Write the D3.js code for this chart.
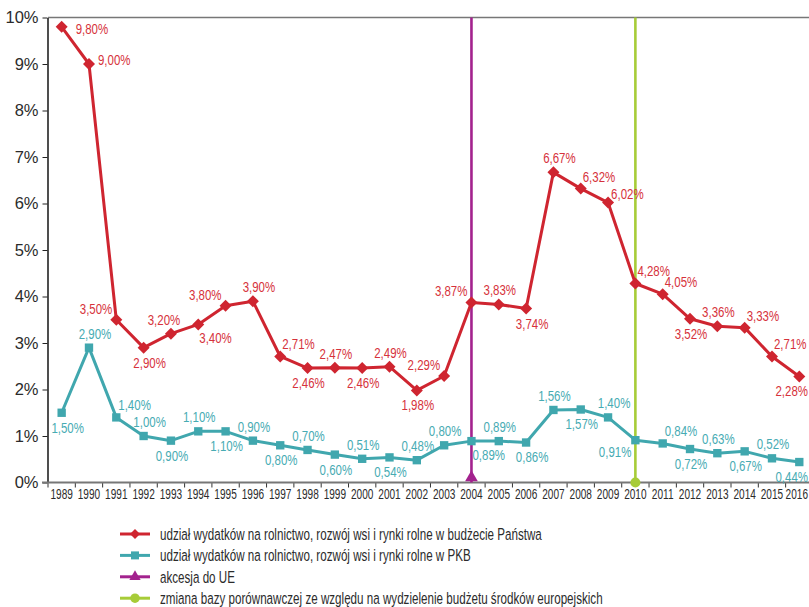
<!DOCTYPE html>
<html>
<head>
<meta charset="utf-8">
<script src="https://cdn.jsdelivr.net/npm/d3@7"></script>
<style>
  html, body { margin: 0; padding: 0; background: #fff; }
  svg { display: block; }
  text { font-family: "Liberation Sans", Arial, sans-serif; }
</style>
</head>
<body>
<svg id="chart" width="809" height="607"></svg>
<script>
// Years on the horizontal axis
const years = [1989, 1990, 1991, 1992, 1993, 1994, 1995, 1996, 1997, 1998, 1999, 2000, 2001, 2002,
               2003, 2004, 2005, 2006, 2007, 2008, 2009, 2010, 2011, 2012, 2013, 2014, 2015, 2016];

// Share of agriculture, rural development and agricultural markets spending in the state budget (%)
const budgetShare = [9.80, 9.00, 3.50, 2.90, 3.20, 3.40, 3.80, 3.90, 2.71, 2.46, 2.47, 2.46, 2.49, 1.98,
                     2.29, 3.87, 3.83, 3.74, 6.67, 6.32, 6.02, 4.28, 4.05, 3.52, 3.36, 3.33, 2.71, 2.28];

// Share of the same spending in GDP (%)
const gdpShare = [1.50, 2.90, 1.40, 1.00, 0.90, 1.10, 1.10, 0.90, 0.80, 0.70, 0.60, 0.51, 0.54, 0.48,
                  0.80, 0.89, 0.89, 0.86, 1.56, 1.57, 1.40, 0.91, 0.84, 0.72, 0.63, 0.67, 0.52, 0.44];

// Percent ticks on the vertical axis
const yTicks = [0, 1, 2, 3, 4, 5, 6, 7, 8, 9, 10];

// Marker years: EU accession, change of comparison base
const accessionYear = 2004;
const baseChangeYear = 2010;

// Legend entries
const legendLabels = [
  "udział wydatków na rolnictwo, rozwój wsi i rynki rolne w budżecie Państwa",
  "udział wydatków na rolnictwo, rozwój wsi i rynki rolne w PKB",
  "akcesja do UE",
  "zmiana bazy porównawczej ze względu na wydzielenie budżetu środków europejskich"
];

// Where each value label sits around its point
const budgetLabelPlace = ["r1", "r2", "tl", "bR", "tL", "br", "tl", "tR", "tr", "b", "t", "b", "t", "b",
                          "tl", "tl", "t", "bR", "tR", "tr", "r3", "tr", "tr", "b", "t", "tr", "tr", "b"];
const gdpLabelPlace = ["bR", "tR", "tr", "tR", "b", "t", "b", "t", "b", "t", "b", "t", "b", "t",
                       "t", "br", "t", "bR", "t", "b", "tR", "bl", "tr", "b", "t", "b", "t", "b"];

const placeOffsets = {
  t:  { anchor: "middle", dx: 1,   dy: -14 },
  tR: { anchor: "middle", dx: 6,   dy: -14 },
  tL: { anchor: "middle", dx: -7,  dy: -14 },
  b:  { anchor: "middle", dx: 1,   dy: 15 },
  bR: { anchor: "middle", dx: 6,   dy: 15 },
  tr: { anchor: "start",  dx: 2,   dy: -12 },
  tl: { anchor: "end",    dx: -4,  dy: -11 },
  br: { anchor: "start",  dx: 1,   dy: 14 },
  bl: { anchor: "end",    dx: -4,  dy: 12 },
  r1: { anchor: "start",  dx: 14,  dy: 2 },
  r2: { anchor: "start",  dx: 9,   dy: -4 },
  r3: { anchor: "start",  dx: 3,   dy: -8 }
};

const colors = {
  budget: "#cf2530",
  budgetText: "#d6323b",
  gdp: "#40a7ae",
  gdpText: "#47abb3",
  accession: "#a3228e",
  baseChange: "#a7cc38",
  axis: "#777777",
  text: "#2b2b2b"
};

// Horizontal squeeze giving a condensed face
const narrowLabel = 0.82, narrowYear = 0.72, narrowLegend = 0.705;

const svg = d3.select("#chart");
const W = 809;

const plotLeft = 48, plotTop = 17.5, plotBottom = 482.5, band = 27.32;

const x = d3.scaleBand()
  .domain(years)
  .range([plotLeft, plotLeft + band * years.length])
  .paddingInner(0).paddingOuter(0);

const y = d3.scaleLinear()
  .domain([0, 10])
  .range([plotBottom, plotTop]);

const cx = yr => x(yr) + x.bandwidth() / 2;
const fmt = v => v.toFixed(2).replace(".", ",") + "%";

// Top frame line at 10%
svg.append("line")
  .attr("x1", plotLeft).attr("x2", W)
  .attr("y1", y(10)).attr("y2", y(10))
  .attr("stroke", colors.axis).attr("stroke-width", 1.6);

// Vertical axis
const yAxis = svg.append("g")
  .attr("transform", `translate(${plotLeft - 0.5},0)`)
  .call(d3.axisLeft(y).tickValues(yTicks).tickFormat(d => d + "%").tickSize(5).tickSizeOuter(0));
yAxis.select(".domain").attr("stroke", "#222").attr("stroke-width", 1.6);
yAxis.selectAll(".tick line").attr("stroke", "#222").attr("stroke-width", 1);
yAxis.selectAll(".tick text")
  .attr("x", -9)
  .attr("fill", colors.text)
  .style("font-size", "16.5px");

// Horizontal axis with year labels
const xAxis = svg.append("g")
  .attr("transform", `translate(0,${plotBottom})`)
  .call(d3.axisBottom(x).tickSize(0).tickPadding(7));
xAxis.select(".domain").remove();
xAxis.selectAll(".tick text")
  .attr("fill", colors.text)
  .style("font-size", "14px")
  .attr("transform", function (d) {
    // keep the last year inside the right edge
    const w = this.getComputedTextLength() * narrowYear;
    const over = cx(d) + w / 2 - (W - 1);
    return `translate(${over > 0 ? -over : 0},0) scale(${narrowYear},1)`;
  });

// Tick marks between years
svg.append("g").selectAll("line")
  .data(d3.range(years.length + 1))
  .join("line")
  .attr("x1", i => plotLeft + i * band)
  .attr("x2", i => plotLeft + i * band)
  .attr("y1", plotBottom).attr("y2", plotBottom + 5)
  .attr("stroke", "#333").attr("stroke-width", 1);

svg.append("line")
  .attr("x1", plotLeft - 6).attr("x2", W)
  .attr("y1", plotBottom).attr("y2", plotBottom)
  .attr("stroke", colors.axis).attr("stroke-width", 2.2);

// Vertical reference lines
function refLine(year, color, marker) {
  const g = svg.append("g");
  g.append("line")
    .attr("x1", cx(year)).attr("x2", cx(year))
    .attr("y1", y(10)).attr("y2", plotBottom)
    .attr("stroke", color).attr("stroke-width", 2.6);
  g.append("path")
    .attr("d", d3.symbol().type(marker === "triangle" ? d3.symbolTriangle : d3.symbolCircle)
      .size(marker === "triangle" ? 70 : 80)())
    .attr("transform", `translate(${cx(year)},${plotBottom - (marker === "triangle" ? 5 : 0)})`)
    .attr("fill", color);
}
refLine(accessionYear, colors.accession, "triangle");
refLine(baseChangeYear, colors.baseChange, "circle");

// Series lines, markers and value labels
function drawSeries(values, color, textColor, symbolType, symbolSize, rotate, places) {
  const pts = years.map((yr, i) => ({ yr, v: values[i], place: places[i] }));
  const g = svg.append("g");
  g.append("path")
    .datum(pts)
    .attr("fill", "none")
    .attr("stroke", color)
    .attr("stroke-width", 3)
    .attr("stroke-linejoin", "round")
    .attr("d", d3.line().x(d => cx(d.yr)).y(d => y(d.v)));
  g.selectAll("path.mk")
    .data(pts)
    .join("path")
    .attr("class", "mk")
    .attr("d", d3.symbol().type(symbolType).size(symbolSize)())
    .attr("transform", d => `translate(${cx(d.yr)},${y(d.v)}) rotate(${rotate})`)
    .attr("fill", color);
  g.selectAll("text")
    .data(pts)
    .join("text")
    .attr("text-anchor", d => placeOffsets[d.place].anchor)
    .attr("dominant-baseline", "central")
    .attr("fill", textColor)
    .style("font-size", "14px")
    .text(d => fmt(d.v))
    .attr("transform", function (d) {
      const o = placeOffsets[d.place];
      let px = cx(d.yr) + o.dx;
      const py = y(d.v) + o.dy;
      // keep labels inside the right edge
      const w = this.getComputedTextLength() * narrowLabel;
      const right = o.anchor === "start" ? px + w : o.anchor === "middle" ? px + w / 2 : px;
      if (right > W - 1) px -= right - (W - 1);
      return `translate(${px},${py}) scale(${narrowLabel},1)`;
    });
}
drawSeries(gdpShare, colors.gdp, colors.gdpText, d3.symbolSquare, 70, 0, gdpLabelPlace);
drawSeries(budgetShare, colors.budget, colors.budgetText, d3.symbolSquare, 72, 45, budgetLabelPlace);

// Legend
const legendColors = [colors.budget, colors.gdp, colors.accession, colors.baseChange];
const legendSymbols = [
  { t: d3.symbolSquare, s: 50, r: 45 },
  { t: d3.symbolSquare, s: 64, r: 0 },
  { t: d3.symbolTriangle, s: 55, r: 0 },
  { t: d3.symbolCircle, s: 70, r: 0 }
];
const legend = svg.append("g");
const rowY = i => 534 + i * 21.4;
legendLabels.forEach((label, i) => {
  legend.append("line")
    .attr("x1", 120).attr("x2", 150)
    .attr("y1", rowY(i)).attr("y2", rowY(i))
    .attr("stroke", legendColors[i]).attr("stroke-width", 3);
  legend.append("path")
    .attr("d", d3.symbol().type(legendSymbols[i].t).size(legendSymbols[i].s)())
    .attr("transform", `translate(135,${rowY(i)}) rotate(${legendSymbols[i].r})`)
    .attr("fill", legendColors[i]);
  legend.append("text")
    .attr("transform", `translate(160,${rowY(i)}) scale(${narrowLegend},1)`)
    .attr("dominant-baseline", "central")
    .attr("fill", colors.text)
    .style("font-size", "16.5px")
    .text(label);
});
</script>
</body>
</html>
